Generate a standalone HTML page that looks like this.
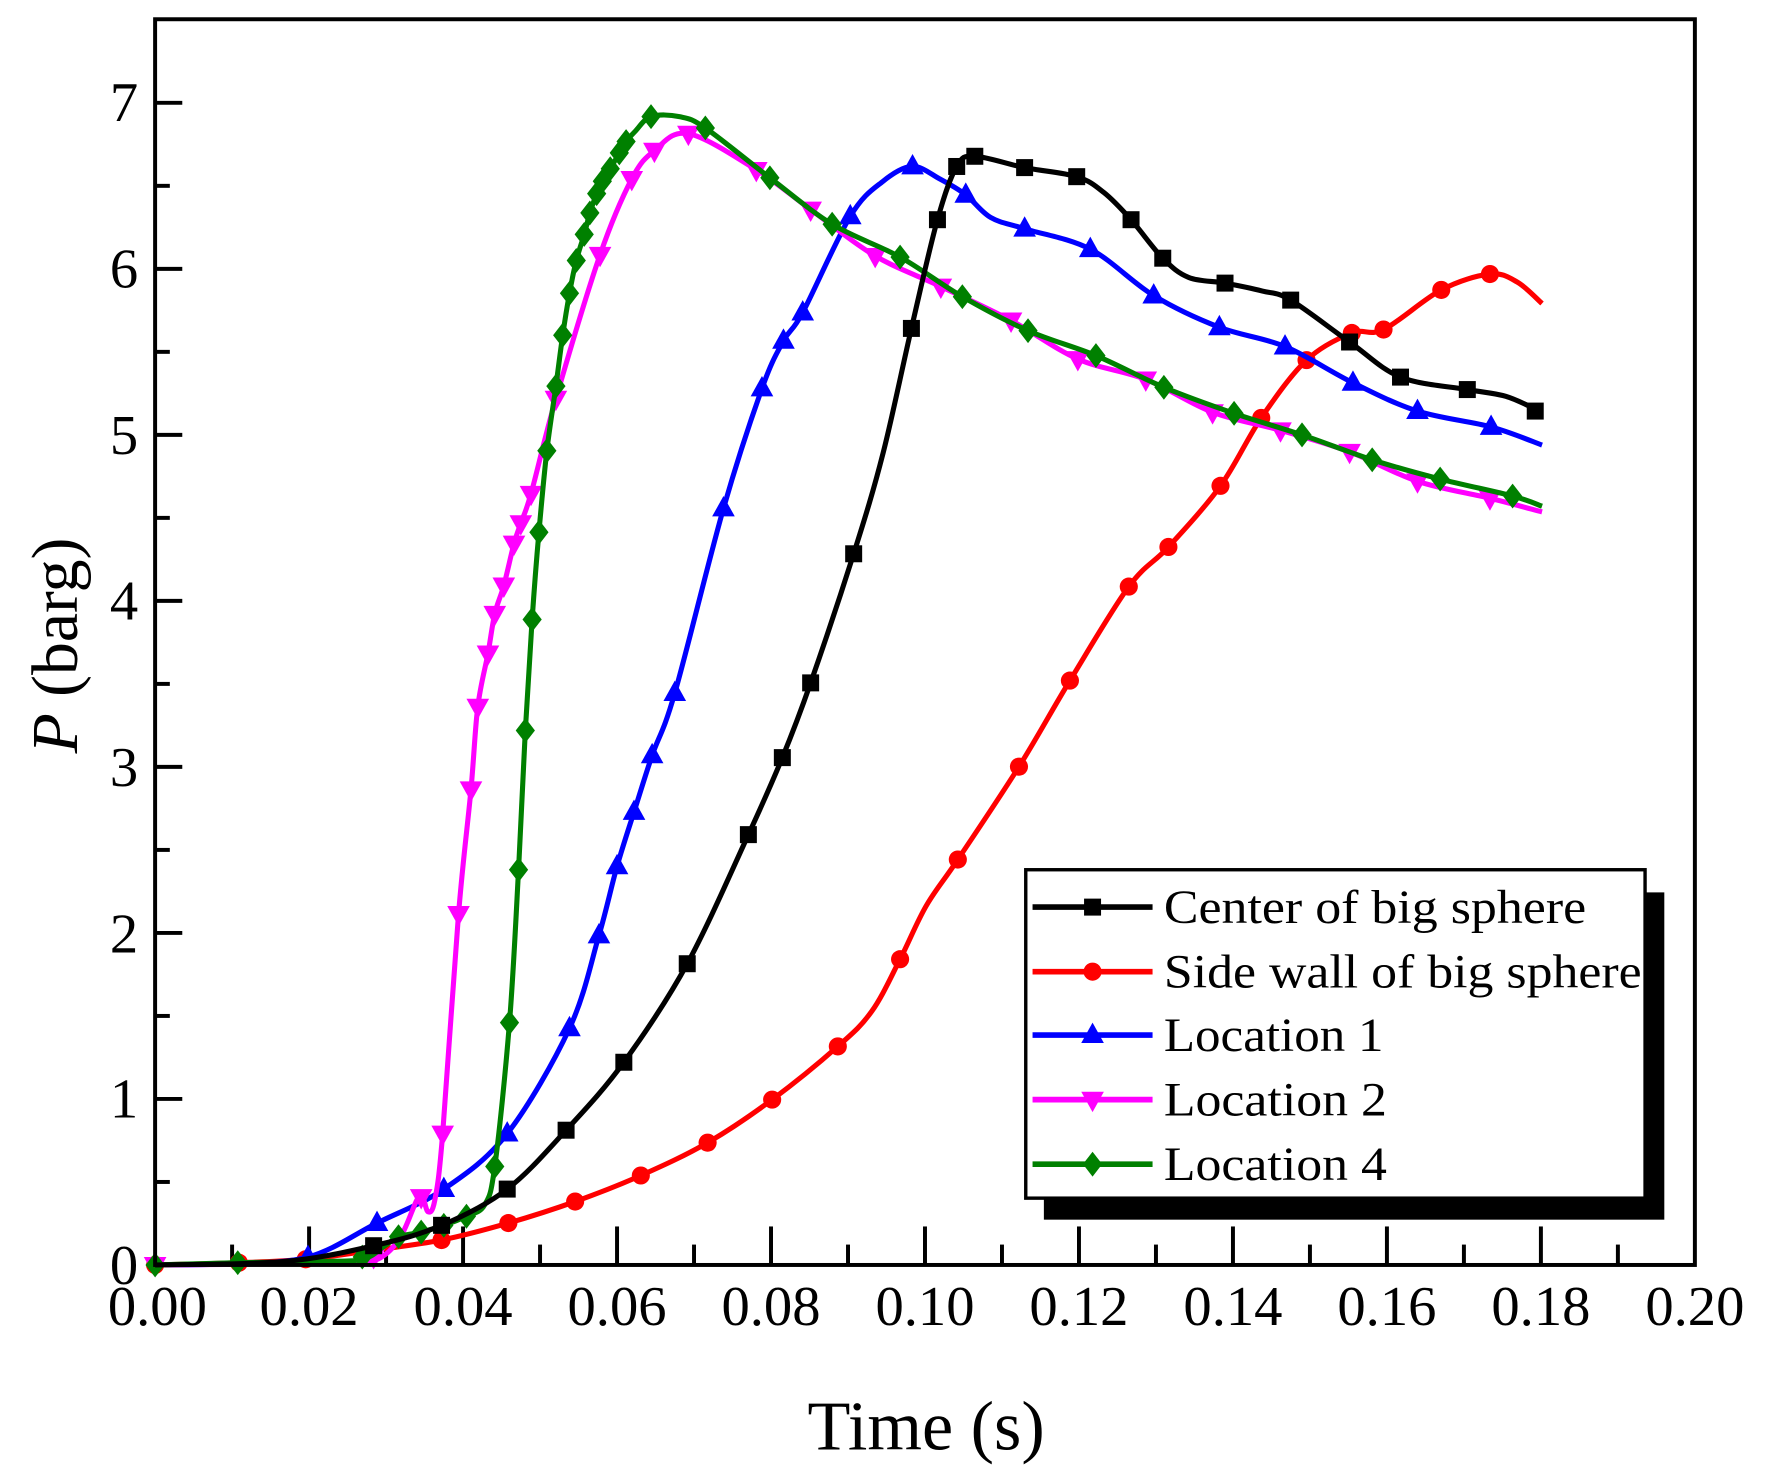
<!DOCTYPE html>
<html><head><meta charset="utf-8"><style>
html,body{margin:0;padding:0;background:#fff;}
svg{display:block;}
text{font-family:"Liberation Serif","Times New Roman",serif;fill:#000;}
</style></head><body>
<svg id="c" width="1773" height="1479" viewBox="0 0 1566 1306" preserveAspectRatio="none" xmlns="http://www.w3.org/2000/svg">
<rect x="0" y="0" width="1566" height="1306" fill="#fff"/>
<g id="ticks" stroke="#000" stroke-width="3.5"></g>
<g id="series"></g>
<rect x="137" y="17" width="1360" height="1100" fill="none" stroke="#000" stroke-width="3.5"/>
<g font-size="50" text-anchor="end">
<text x="122" y="1134">0</text><text x="122" y="987">1</text><text x="122" y="841">2</text>
<text x="122" y="694">3</text><text x="122" y="547">4</text><text x="122" y="401">5</text>
<text x="122" y="254">6</text><text x="122" y="107">7</text>
</g>
<g font-size="50" text-anchor="middle">
<text x="139" y="1170">0.00</text><text x="273" y="1170">0.02</text><text x="409" y="1170">0.04</text>
<text x="545" y="1170">0.06</text><text x="681" y="1170">0.08</text><text x="817" y="1170">0.10</text>
<text x="953" y="1170">0.12</text><text x="1089" y="1170">0.14</text><text x="1225" y="1170">0.16</text>
<text x="1361" y="1170">0.18</text><text x="1497" y="1170">0.20</text>
</g>
<text x="818" y="1280" font-size="62" text-anchor="middle">Time (s)</text>
<text transform="translate(68,570) rotate(-90)" font-size="58" text-anchor="middle"><tspan font-style="italic">P</tspan> (barg)</text>
<rect x="922" y="788" width="548" height="289" fill="#000"/>
<rect x="906" y="768" width="547" height="290" fill="#fff" stroke="#000" stroke-width="3"/>
<g id="legend"></g>
</svg>
<script>
var NS="http://www.w3.org/2000/svg";
function el(t,a,p){var e=document.createElementNS(NS,t);for(var k in a)e.setAttribute(k,a[k]);p.appendChild(e);return e;}
var tk=document.getElementById('ticks');
for(var i=0;i<=14;i++){var y=1117-73.3*i;el('line',{x1:137,x2:137+(i%2?13:24),y1:y,y2:y},tk);}
for(var i=1;i<20;i++){var x=137+68*i;el('line',{x1:x,x2:x,y1:1117,y2:1117-(i%2?18:34)},tk);}
function path(pts){var d="M"+pts[0][0]+","+pts[0][1];for(var i=0;i<pts.length-1;i++){var p0=pts[i-1]||pts[i],p1=pts[i],p2=pts[i+1],p3=pts[i+2]||p2;
var c1x=p1[0]+(p2[0]-p0[0])/6,c1y=p1[1]+(p2[1]-p0[1])/6,c2x=p2[0]-(p3[0]-p1[0])/6,c2y=p2[1]-(p3[1]-p1[1])/6;
d+=" C"+c1x.toFixed(1)+","+c1y.toFixed(1)+" "+c2x.toFixed(1)+","+c2y.toFixed(1)+" "+p2[0]+","+p2[1];}return d;}
function marker(type,x,y,col,g){
if(type=='s')el('rect',{x:x-7.5,y:y-7.5,width:15,height:15,fill:col},g);
else if(type=='c')el('circle',{cx:x,cy:y,r:8,fill:col},g);
else if(type=='t')el('polygon',{points:(x)+","+(y-11)+" "+(x+10)+","+(y+7)+" "+(x-10)+","+(y+7),fill:col},g);
else if(type=='v')el('polygon',{points:(x)+","+(y+11)+" "+(x+10)+","+(y-7)+" "+(x-10)+","+(y-7),fill:col},g);
else if(type=='d')el('polygon',{points:(x)+","+(y-11)+" "+(x+8.5)+","+(y)+" "+(x)+","+(y+11)+" "+(x-8.5)+","+(y),fill:col},g);}
var S=[
{c:'#ff0000',m:'c',name:'Side wall of big sphere',w:422,
l:[[137,1117],[211,1115],[270,1112],[330,1104],[390,1095],[449,1080],[508,1061],[566,1038],[625,1009],[682,971],[740,924],[770,893],[795,847],[818,800],[846,759],[900,677],[945,601],[997,518],[1032,483],[1078,429],[1114,369],[1154,318],[1194,294],[1222,291],[1273,256],[1316,242],[1340,249],[1362,268]],
k:[[137,1117],[211,1115],[270,1112],[330,1104],[390,1095],[449,1080],[508,1061],[566,1038],[625,1009],[682,971],[740,924],[795,847],[846,759],[900,677],[945,601],[997,518],[1032,483],[1078,429],[1114,369],[1154,318],[1194,294],[1222,291],[1273,256],[1316,242]]},
{c:'#0000ff',m:'t',name:'Location 1',w:194,
l:[[137,1117],[200,1116],[272,1110],[333,1080],[392,1050],[448,1001],[503,908],[529,826],[545,765],[560,717],[576,667],[596,612],[639,449],[673,343],[692,301],[709,276],[751,191],[780,160],[806,147],[830,158],[853,172],[875,192],[905,202],[963,220],[1019,261],[1077,289],[1135,306],[1195,338],[1252,363],[1317,377],[1362,393]],
k:[[272,1110],[333,1080],[392,1050],[448,1001],[503,908],[529,826],[545,765],[560,717],[576,667],[596,612],[639,449],[673,343],[692,301],[709,276],[751,191],[806,147],[853,172],[905,202],[963,220],[1019,261],[1077,289],[1135,306],[1195,338],[1252,363],[1317,377]]},
{c:'#ff00ff',m:'v',name:'Location 2',w:197,
l:[[137,1117],[250,1116],[320,1114],[340,1108],[355,1090],[368,1060],[373,1056],[378,1070],[384,1060],[391,1001],[405,807],[416,697],[422,624],[431,577],[437,542],[445,517],[454,480],[460,462],[469,436],[491,352],[530,225],[558,158],[578,133],[608,118],[668,150],[716,185],[773,226],[831,253],[893,283],[952,317],[1012,335],[1071,364],[1131,380],[1192,399],[1252,425],[1316,440],[1362,452]],
k:[[137,1117],[330,1110],[372,1057],[391,1001],[405,807],[416,697],[422,624],[431,577],[437,542],[445,517],[454,480],[460,462],[469,436],[491,352],[530,225],[558,158],[578,133],[608,118],[668,150],[716,185],[773,226],[831,253],[893,283],[952,317],[1012,335],[1071,364],[1131,380],[1192,399],[1252,425],[1316,440]]},
{c:'#008000',m:'d',name:'Location 4',w:197,
l:[[137,1117],[210,1115],[280,1114],[320,1112],[340,1100],[352,1092],[372,1088],[392,1082],[412,1074],[428,1064],[437,1030],[450,903],[458,768],[464,645],[470,547],[476,470],[483,398],[491,341],[497,296],[503,259],[509,230],[516,207],[521,188],[527,171],[532,160],[539,149],[547,135],[553,125],[561,116],[575,103],[600,103],[623,113],[680,157],[735,198],[795,227],[850,262],[908,292],[968,314],[1028,342],[1090,365],[1150,384],[1212,406],[1272,423],[1336,438],[1362,447]],
k:[[137,1117],[210,1115],[320,1110],[352,1092],[372,1088],[392,1082],[412,1074],[437,1030],[450,903],[458,768],[464,645],[470,547],[476,470],[483,398],[491,341],[497,296],[503,259],[509,230],[516,207],[521,188],[527,171],[532,160],[539,149],[547,135],[553,125],[575,103],[623,113],[680,157],[735,198],[795,227],[850,262],[908,292],[968,314],[1028,342],[1090,365],[1150,384],[1212,406],[1272,423],[1336,438]]},
{c:'#000000',m:'s',name:'Center of big sphere',w:373,
l:[[137,1117],[250,1114],[330,1100],[390,1082],[448,1050],[500,998],[551,938],[607,851],[661,737],[691,669],[716,603],[754,489],[780,400],[805,290],[828,194],[845,147],[861,138],[905,148],[951,156],[975,170],[999,194],[1027,228],[1050,245],[1082,250],[1115,257],[1140,265],[1192,302],[1237,333],[1296,344],[1330,350],[1362,364]],
k:[[330,1100],[390,1082],[448,1050],[500,998],[551,938],[607,851],[661,737],[691,669],[716,603],[754,489],[805,290],[828,194],[845,147],[861,138],[905,148],[951,156],[999,194],[1027,228],[1082,250],[1140,265],[1192,302],[1237,333],[1296,344],[1356,363]]}
];
var sg=document.getElementById('series');
S.forEach(function(s){var g=el('g',{},sg);el('path',{d:path(s.l),fill:'none',stroke:s.c,'stroke-width':4.5,'stroke-linejoin':'round'},g);s.k.forEach(function(p){marker(s.m,p[0],p[1],s.c,g);});});
var lg=document.getElementById('legend');
var order=[4,0,1,2,3],ys=[801,858,914,971,1028];
order.forEach(function(idx,i){var s=S[idx],y=ys[i];el('line',{x1:912,x2:1018,y1:y,y2:y,stroke:s.c,'stroke-width':5},lg);marker(s.m,965,y,s.c,lg);
var t=el('text',{x:1028,y:y+14,'font-size':42,textLength:s.w,lengthAdjust:'spacingAndGlyphs'},lg);t.textContent=s.name;});
</script>
</body></html>
